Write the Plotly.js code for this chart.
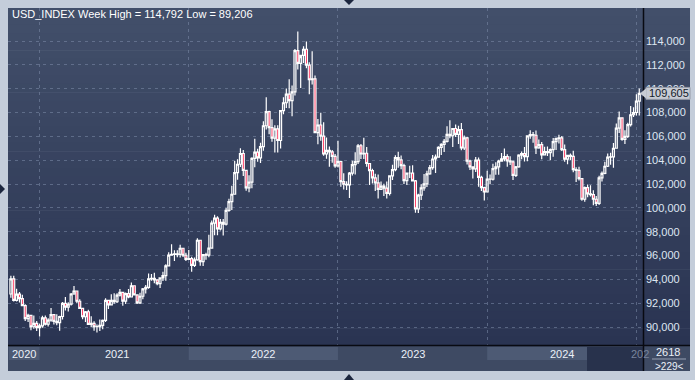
<!DOCTYPE html>
<html><head><meta charset="utf-8">
<script src="https://cdn.plot.ly/plotly-3.0.1.min.js"></script>
<style>html,body{margin:0;padding:0;background:#c4ccd8;overflow:hidden}#chart{width:695px;height:380px}</style>
</head><body><div id="chart"></div>
<script>
// Weekly USD_INDEX candles (week of 26 Oct 2020 ... week of 6 Jan 2025)
const open = [
92.77,94.04,92.23,92.76,92.39,91.79,90.70,90.98,90.02,90.30,
89.94,90.10,90.77,90.23,90.58,91.04,90.48,90.36,90.88,91.98,
91.67,91.92,92.77,93.02,92.16,91.56,90.86,91.28,90.22,90.31,
90.02,90.03,90.13,90.55,92.23,91.85,92.23,92.12,92.68,92.90,
92.17,92.80,92.52,93.46,92.69,92.03,92.58,93.20,93.33,94.04,
94.08,93.96,93.64,94.12,94.32,95.13,96.03,96.09,96.13,96.09,
96.61,96.02,95.67,95.73,95.17,95.64,97.28,95.49,96.08,96.03,
96.62,98.71,99.13,98.23,98.79,98.63,99.79,100.52,101.14,102.96,
103.66,104.56,103.15,101.67,102.15,104.15,104.68,104.20,105.14,106.89,
108.07,106.73,105.85,106.62,105.65,108.16,108.82,109.54,109.00,109.73,
113.19,112.12,112.79,113.31,111.98,110.75,110.83,106.31,106.95,106.02,
104.52,104.82,104.70,104.32,103.52,103.89,102.20,101.98,101.92,102.92,
103.63,103.87,105.21,104.52,104.58,103.72,103.12,102.51,102.09,101.55,
101.82,101.66,101.22,102.69,103.20,104.21,104.03,103.55,102.28,102.91,
102.91,102.27,99.91,101.07,101.68,102.01,102.85,103.37,104.10,104.26,
105.07,105.32,105.58,106.17,106.05,106.66,106.16,106.56,105.02,105.87,
103.92,103.44,103.27,104.01,102.55,101.70,101.33,102.41,102.40,103.29,
103.43,103.92,104.11,104.30,103.94,103.86,102.72,103.43,104.43,104.55,
104.30,106.04,106.15,106.09,105.03,105.30,104.45,104.72,104.63,104.89,
105.55,105.80,105.87,104.88,104.09,104.40,104.32,103.21,103.14,102.45,
100.72,101.70,101.18,101.11,100.72,100.38,102.52,102.89,103.49,104.26,
104.28,105.00,106.69,107.55,105.74,105.99,106.99,107.81,108.00,108.95];
const high = [
94.30,94.30,93.21,92.93,92.70,91.92,91.12,91.00,90.96,90.50,
90.28,90.95,90.96,90.74,91.60,91.05,91.07,90.94,92.10,92.51,
92.08,92.85,93.44,93.06,92.32,91.60,91.35,91.44,90.90,90.48,
90.21,90.63,90.62,92.41,92.25,92.74,92.84,92.83,93.19,92.95,
92.89,93.19,93.73,93.51,92.73,92.88,93.28,93.53,94.50,94.45,
94.56,93.96,94.18,94.63,95.27,96.27,96.94,96.44,96.45,96.91,
96.64,96.23,96.46,95.90,95.84,97.44,97.33,96.09,96.24,97.74,
98.94,99.42,99.29,99.06,99.06,99.98,100.76,101.86,103.93,104.07,
105.01,104.86,103.17,102.74,104.25,105.79,104.95,105.46,107.27,109.29,
108.15,107.43,106.93,106.93,108.19,109.27,110.02,110.79,110.26,113.33,
114.792,112.55,113.56,113.95,112.21,113.15,111.11,107.46,107.99,107.18,
105.90,105.14,104.86,104.51,105.63,103.95,102.90,102.24,103.01,103.96,
104.67,105.36,105.36,105.88,105.11,103.77,103.27,102.87,102.80,102.21,
102.03,102.21,102.74,103.62,104.42,104.70,104.40,103.70,102.95,103.54,
103.58,102.34,101.19,101.98,102.84,103.11,103.59,104.44,104.47,105.16,
105.43,105.78,106.84,107.35,106.69,106.99,106.89,107.11,106.07,105.97,
104.04,103.49,104.27,104.22,102.69,101.77,103.11,102.80,103.69,103.82,
104.03,104.60,104.97,104.49,104.32,103.98,103.51,104.49,104.73,105.10,
106.10,106.52,106.37,106.49,105.74,105.52,105.12,105.15,104.98,105.86,
105.91,106.13,106.02,105.31,104.46,104.57,104.80,103.40,103.45,102.49,
101.80,101.96,101.90,101.47,101.00,102.69,103.04,103.87,104.57,104.63,
105.44,107.07,108.09,107.59,106.51,107.15,108.54,108.45,109.54,110.02];
const low = [
92.46,92.13,92.13,92.05,91.75,90.50,90.42,89.72,89.85,89.66,
89.206,89.93,90.13,90.04,90.45,90.21,90.14,89.68,90.63,91.38,
91.30,91.81,92.70,91.99,91.51,90.66,90.42,90.21,89.98,89.69,
89.53,89.66,89.81,90.42,91.51,91.83,91.96,92.01,92.57,91.78,
91.94,92.41,92.50,92.64,91.94,91.94,92.33,92.81,93.21,93.88,
93.67,93.50,93.27,93.87,93.88,95.08,95.99,95.53,95.85,95.83,
95.87,95.53,95.65,94.63,95.03,95.57,95.14,95.11,95.65,95.85,
96.57,97.71,97.71,98.10,97.68,98.51,99.68,99.82,101.10,102.35,
103.43,102.67,101.43,101.30,101.64,103.41,103.86,103.77,104.80,106.58,
106.17,105.54,104.64,104.64,104.97,107.85,108.37,108.36,107.68,109.43,
111.61,110.06,112.16,111.71,109.54,110.34,106.27,105.34,105.63,104.37,
104.11,103.44,103.79,103.36,103.39,101.77,101.53,101.50,100.82,102.71,
102.79,103.68,104.09,104.10,103.45,101.92,102.05,101.41,100.79,101.52,
101.00,100.79,101.03,102.33,103.08,103.37,103.24,102.00,101.92,102.51,
102.24,99.58,99.56,100.66,101.44,101.74,102.77,103.20,102.93,104.20,
104.43,104.68,105.49,105.83,105.10,105.94,105.36,104.84,104.86,103.64,
103.17,102.46,103.00,101.77,101.42,100.62,101.33,101.98,102.30,102.78,
102.77,103.91,103.92,103.44,103.59,102.33,102.58,103.36,104.08,103.88,
103.91,105.79,105.46,104.52,104.96,104.08,104.40,104.36,103.99,104.28,
104.86,105.39,104.78,103.87,103.65,104.02,102.99,102.16,102.29,100.59,
100.52,100.88,100.96,100.22,100.16,100.24,102.20,102.82,103.42,103.61,
103.37,104.95,106.29,105.62,105.36,105.87,106.83,107.63,107.75,107.75];
const close = [
94.04,92.23,92.76,92.39,91.79,90.70,90.98,90.02,90.30,89.94,
90.10,90.77,90.23,90.58,91.04,90.48,90.36,90.88,91.98,91.67,
91.92,92.77,93.02,92.16,91.56,90.86,91.28,90.22,90.31,90.02,
90.03,90.13,90.55,92.23,91.85,92.23,92.12,92.68,92.90,92.17,
92.80,92.52,93.46,92.69,92.03,92.58,93.20,93.33,94.04,94.08,
93.96,93.64,94.12,94.32,95.13,96.03,96.09,96.13,96.09,96.61,
96.02,95.67,95.73,95.17,95.64,97.28,95.49,96.08,96.03,96.62,
98.71,99.13,98.23,98.79,98.63,99.79,100.52,101.14,102.96,103.66,
104.56,103.15,101.67,102.15,104.15,104.68,104.20,105.14,106.89,108.07,
106.73,105.85,106.62,105.65,108.16,108.82,109.54,109.00,109.73,113.19,
112.12,112.79,113.31,111.98,110.75,110.83,106.31,106.95,106.02,104.52,
104.82,104.70,104.32,103.52,103.89,102.20,101.98,101.92,102.92,103.63,
103.87,105.21,104.52,104.58,103.72,103.12,102.51,102.09,101.55,101.82,
101.66,101.22,102.69,103.20,104.21,104.03,103.55,102.28,102.91,102.91,
102.27,99.91,101.07,101.68,102.01,102.85,103.37,104.10,104.26,105.07,
105.32,105.58,106.17,106.05,106.66,106.16,106.56,105.02,105.87,103.92,
103.44,103.27,104.01,102.55,101.70,101.33,102.41,102.40,103.29,103.43,
103.92,104.11,104.30,103.94,103.86,102.72,103.43,104.43,104.55,104.30,
106.04,106.15,106.09,105.03,105.30,104.45,104.72,104.63,104.89,105.55,
105.80,105.87,104.88,104.09,104.40,104.32,103.21,103.14,102.45,100.72,
101.70,101.18,101.11,100.72,100.38,102.52,102.89,103.49,104.26,104.28,
105.00,106.69,107.55,105.74,105.99,106.99,107.81,108.00,108.95,109.605];

const yearLabels = ['2020','2021','2022','2023','2024','202'];
const yearStartBar = [10, 62, 114, 166, 218];   // first weekly bar of 2021..2025
const yTicks = [90,92,94,96,98,100,102,104,106,108,110,112,114];
const titleText = 'USD_INDEX Week High = 114,792 Low = 89,206';
const lastPrice = 109.605;
const lastPriceText = '109,605';
const cornerTop = '2618';
const cornerBottom = '>229<';

// ---- layout geometry (pixels) ----
const L = 8, R = 643, T = 8, B = 345;
const px = x => (x - L) / (R - L);
const py = y => (B - y) / (B - T);
const FONT = 'Liberation Sans Narrow, Arial Narrow, Liberation Sans, Arial, sans-serif';

const shapes = [];
// gradient background (plot + right panel)
const N = 40;
const c0 = [66, 79, 106], c1 = [42, 52, 82];
for (let k = 0; k < N; k++) {
  const t = k / (N - 1);
  const c = c0.map((v, j) => Math.round(v + (c1[j] - v) * t));
  const y0 = T + (B - T) * k / N, y1 = T + (B - T) * (k + 1) / N + 0.6;
  shapes.push({type:'rect', xref:'paper', yref:'paper', x0:px(L), x1:px(690), y0:py(y1), y1:py(y0),
    line:{width:0}, fillcolor:`rgb(${c[0]},${c[1]},${c[2]})`, layer:'below'});
}
// time band
shapes.push({type:'rect', xref:'paper', yref:'paper', x0:px(L), x1:px(690), y0:py(371), y1:py(B),
  line:{width:0}, fillcolor:'rgb(62,74,99)', layer:'below'});
// lighter year boxes (2020, 2022, 2024)
const boxSpans = [[-0.7, yearStartBar[0]], [yearStartBar[1], yearStartBar[2]], [yearStartBar[3], yearStartBar[4]]];
boxSpans.forEach(s => shapes.push({type:'rect', xref:'x', yref:'paper', x0:s[0], x1:s[1], y0:py(360), y1:py(347),
  line:{width:0}, fillcolor:'rgb(77,90,116)', layer:'below'}));
// dark overlay box
shapes.push({type:'rect', xref:'paper', yref:'paper', x0:px(587), x1:px(643), y0:py(371), y1:py(347),
  line:{width:0}, fillcolor:'rgb(40,50,76)', layer:'below'});
// separator lines
shapes.push({type:'line', xref:'paper', yref:'paper', x0:px(L), x1:px(690), y0:py(345.5), y1:py(345.5),
  line:{color:'rgb(8,10,18)', width:1.5}});
shapes.push({type:'line', xref:'paper', yref:'paper', x0:px(643.5), x1:px(643.5), y0:py(371), y1:py(T),
  line:{color:'rgb(8,10,18)', width:1.5}});
shapes.push({type:'line', xref:'paper', yref:'paper', x0:px(652), x1:px(686), y0:py(359), y1:py(359),
  line:{color:'rgb(150,160,180)', width:1}});
// last price tag
shapes.push({type:'rect', xref:'paper', yref:'y', x0:px(646), x1:px(690), y0:lastPrice - 0.5, y1:lastPrice + 0.5,
  line:{color:'rgb(150,156,168)', width:1}, fillcolor:'rgb(200,204,212)'});
shapes.push({type:'path', xref:'paper', yref:'y',
  path:`M ${px(640)},${lastPrice} L ${px(646.5)},${lastPrice + 0.45} L ${px(646.5)},${lastPrice - 0.45} Z`,
  line:{width:0}, fillcolor:'rgb(200,204,212)'});
// frame arrows
const arrowCol = 'rgb(28,38,62)';
shapes.push({type:'path', xref:'paper', yref:'paper',
  path:`M ${px(344)},${py(0)} L ${px(354)},${py(0)} L ${px(349)},${py(5)} Z`, line:{width:0}, fillcolor:arrowCol});
shapes.push({type:'path', xref:'paper', yref:'paper',
  path:`M ${px(344)},${py(380)} L ${px(354)},${py(380)} L ${px(349)},${py(374)} Z`, line:{width:0}, fillcolor:arrowCol});
shapes.push({type:'path', xref:'paper', yref:'paper',
  path:`M ${px(0)},${py(184)} L ${px(0)},${py(194)} L ${px(5)},${py(189)} Z`, line:{width:0}, fillcolor:arrowCol});

// year labels
const labelPos = [
  (-0.7 + yearStartBar[0]) / 2,
  (yearStartBar[0] + yearStartBar[1]) / 2 + 1,
  (yearStartBar[1] + yearStartBar[2]) / 2,
  (yearStartBar[2] + yearStartBar[3]) / 2,
  (yearStartBar[3] + yearStartBar[4]) / 2
];
const annotations = labelPos.map((x, k) => ({
  xref:'x', yref:'paper', x:x, y:py(353.5), text:yearLabels[k], showarrow:false,
  xanchor:'center', yanchor:'middle', font:{family:FONT, size:11, color:'rgb(235,240,248)'}
}));
annotations.push({xref:'paper', yref:'paper', x:px(629), y:py(353.5), text:yearLabels[5], showarrow:false,
  xanchor:'left', yanchor:'middle', font:{family:FONT, size:11, color:'rgb(120,132,155)'}});
annotations.push({xref:'paper', yref:'paper', x:px(10), y:py(14), text:titleText, showarrow:false,
  xanchor:'left', yanchor:'middle', font:{family:FONT, size:11, color:'#ffffff'}});
annotations.push({xref:'paper', yref:'y', x:px(647), y:lastPrice, text:lastPriceText, showarrow:false,
  xanchor:'left', yanchor:'middle', font:{family:FONT, size:11, color:'rgb(20,26,40)'}});
annotations.push({xref:'paper', yref:'paper', x:px(668), y:py(352), text:cornerTop, showarrow:false,
  xanchor:'center', yanchor:'middle', font:{family:FONT, size:11, color:'rgb(235,240,248)'}});
annotations.push({xref:'paper', yref:'paper', x:px(669), y:py(366), text:cornerBottom, showarrow:false,
  xanchor:'center', yanchor:'middle', font:{family:FONT, size:10, color:'rgb(235,240,248)'}});

const trace = {
  type:'candlestick', open:open, high:high, low:low, close:close,
  increasing:{line:{color:'#ffffff', width:1.2}, fillcolor:'rgba(255,255,255,0.15)'},
  decreasing:{line:{color:'#ffffff', width:1.2}, fillcolor:'#ff1040'},
  whiskerwidth:0, hoverinfo:'skip'
};

const layout = {
  width:695, height:380,
  margin:{l:L, r:695 - R, t:T, b:380 - B, pad:0},
  paper_bgcolor:'rgb(196,205,218)', plot_bgcolor:'rgba(0,0,0,0)',
  separators:',.',
  showlegend:false, boxgap:0.02,
  xaxis:{range:[-1.0, 220.3], rangeslider:{visible:false}, showticklabels:false, ticks:'',
    tickmode:'array', tickvals:yearStartBar, showgrid:true, gridcolor:'rgba(125,140,170,0.55)',
    griddash:'3px,4px', gridwidth:1, zeroline:false, showline:false, fixedrange:true},
  yaxis:{range:[88.49, 116.77], side:'right', tickmode:'array', tickvals:yTicks, tickformat:'.3f',
    showgrid:true, gridcolor:'rgba(125,140,170,0.55)', griddash:'3px,4px', gridwidth:1,
    zeroline:false, showline:false, ticks:'', ticklabelstandoff:2,
    tickfont:{family:FONT, size:11, color:'rgb(222,230,242)'}, fixedrange:true},
  shapes:shapes, annotations:annotations
};

Plotly.newPlot('chart', [trace], layout, {staticPlot:true, displayModeBar:false});
</script></body></html>
